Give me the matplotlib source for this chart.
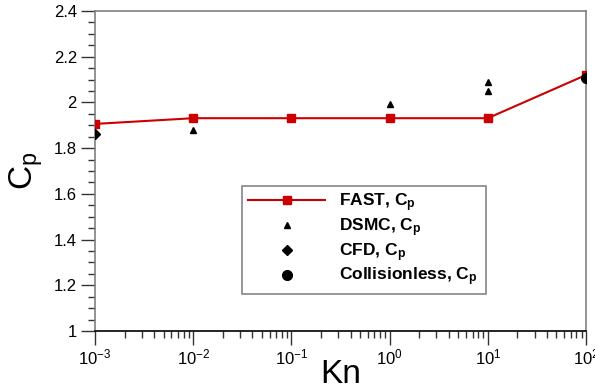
import matplotlib
matplotlib.use('Agg')
import matplotlib.pyplot as plt
from matplotlib.ticker import MultipleLocator, LogLocator, NullFormatter

plt.rcParams['font.family'] = ['Liberation Sans', 'DejaVu Sans']
plt.rcParams['mathtext.fontset'] = 'custom'
plt.rcParams['mathtext.rm'] = 'Liberation Sans'
plt.rcParams['mathtext.it'] = 'Liberation Sans'
plt.rcParams['mathtext.bf'] = 'Liberation Sans:bold'
plt.rcParams['axes.unicode_minus'] = False

# data
kn_fast = [1e-3, 1e-2, 1e-1, 1e0, 1e1, 1e2]
cp_fast = [1.906, 1.931, 1.931, 1.931, 1.931, 2.12]
kn_dsmc = [1e-2, 1e0, 1e1, 1e1]
cp_dsmc = [1.878, 1.994, 2.088, 2.052]
kn_cfd = [1e-3]
cp_cfd = [1.861]
kn_free = [1e2]
cp_free = [2.105]

fig = plt.figure(figsize=(5.95, 3.91), dpi=100)
ax = fig.add_axes([95 / 595, 1 - 331 / 391, 491 / 595, 320 / 391])

ax.plot(kn_fast, cp_fast, color='#cc0000', lw=1.5, marker='s', ms=6,
        label=r'FAST, C$_\mathbf{p}$', zorder=3)
ax.plot(kn_dsmc, cp_dsmc, 'k^', ms=5, ls='none',
        label=r'DSMC, C$_\mathbf{p}$', zorder=4)
ax.plot(kn_cfd, cp_cfd, 'kD', ms=5, ls='none',
        label=r'CFD, C$_\mathbf{p}$', zorder=4)
ax.plot(kn_free, cp_free, 'ko', ms=7, ls='none',
        label=r'Collisionless, C$_\mathbf{p}$', zorder=4)

ax.set_xscale('log')
ax.set_xlim(1e-3, 1e2)
ax.set_ylim(1, 2.4)
ax.yaxis.set_minor_locator(MultipleLocator(0.05))
ax.set_yticks([1, 1.2, 1.4, 1.6, 1.8, 2, 2.2, 2.4])
ax.set_yticklabels(['1', '1.2', '1.4', '1.6', '1.8', '2', '2.2', '2.4'])
ax.xaxis.set_major_locator(LogLocator(base=10, numticks=10))
ax.xaxis.set_minor_locator(LogLocator(base=10, subs=range(2, 10), numticks=20))
ax.xaxis.set_minor_formatter(NullFormatter())

ax.tick_params(which='major', direction='out', length=10, width=1,
               labelsize=12, color='#333333')
ax.tick_params(which='minor', direction='out', length=5, width=1, color='#333333')
ax.tick_params(axis='y', pad=3)
ax.tick_params(axis='x', pad=2)

for s in ['left', 'top', 'right']:
    ax.spines[s].set_color('#808080')
    ax.spines[s].set_linewidth(1.2)
ax.spines['bottom'].set_color('black')
ax.spines['bottom'].set_linewidth(1.2)

ax.set_xlabel('Kn', fontsize=24, labelpad=-6)
ax.set_ylabel(r'C$_\mathrm{p}$', fontsize=24, labelpad=6)

leg = ax.legend(loc='center', bbox_to_anchor=(0.30, 0.119, 0.496, 0.331),
                mode='expand', fancybox=False, frameon=True, handlelength=4.4,
                prop={'weight': 'bold', 'size': 12.5}, borderpad=0.35,
                labelspacing=0.12, handletextpad=0.8, borderaxespad=0)
leg.get_frame().set_edgecolor('#666666')
leg.get_frame().set_linewidth(1.2)

fig.savefig('out.png', dpi=100)
